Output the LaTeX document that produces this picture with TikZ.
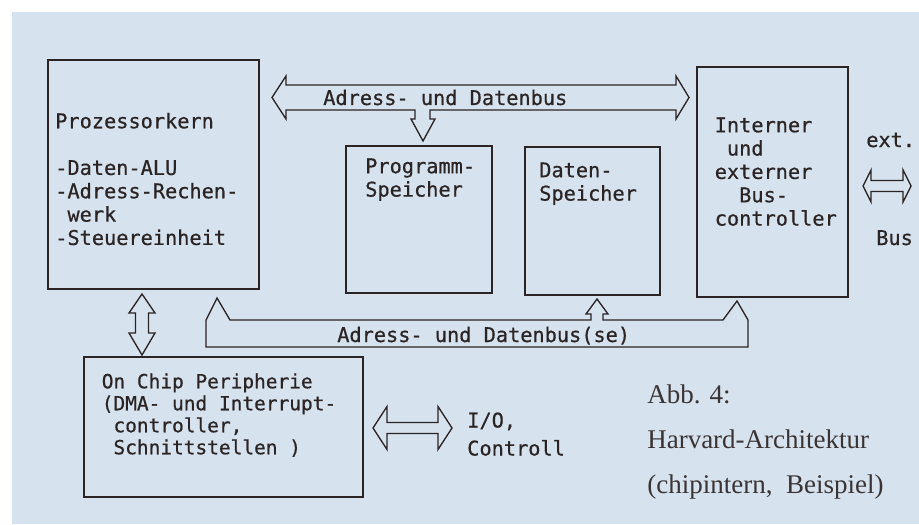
\documentclass[tikz,border=0pt]{standalone}
\usepackage{fontspec}
\setmonofont[FakeBold=0.6]{DejaVu Sans Mono}
\newfontfamily\capfont{Liberation Serif}
\usetikzlibrary{fit}
\definecolor{scanblue}{HTML}{D6E2EE}
\definecolor{ink}{HTML}{2A2424}
\definecolor{capink}{HTML}{3A3434}
\newcommand{\monosp}{\hphantom{x}}
\begin{document}
\begin{tikzpicture}[x=0.75pt,y=-0.75pt,
  box/.style={draw=ink,line width=1.5pt,inner sep=0pt},
  blockarrow/.style={draw=ink,line width=1pt,line join=miter},
  monotext/.style={inner sep=0pt,text=ink,align=left,
    font=\ttfamily\fontsize{15.2pt}{17.5pt}\selectfont},
  captext/.style={inner sep=0pt,text=capink,align=left,
    font=\capfont\fontsize{20.25pt}{33.75pt}\selectfont}]
% background
\fill[white] (0,0) rectangle (919,524);
\fill[scanblue] (12,12) rectangle (919,524);
\useasboundingbox (0,0) rectangle (919,524);

% boxes
\node[box,fit={(48,60) (259,289)}] (pk) {};
\node[box,fit={(346,146) (492,293)}] (prog) {};
\node[box,fit={(525,147) (660,295)}] (daten) {};
\node[box,fit={(697,67) (848,297)}] (bc) {};
\node[box,fit={(84,357) (363,497)}] (onchip) {};

% box texts
\node[monotext,anchor=north west] (pktext) at (55,112.6)
  {Prozessorkern\\[17.5pt]-Daten-ALU\\-Adress-Rechen-\\\monosp werk\\-Steuereinheit};
\node[monotext,anchor=north west] (progtext) at (365,158.2)
  {Programm-\\Speicher};
\node[monotext,anchor=north west] (datentext) at (539,162.2)
  {Daten-\\Speicher};
\node[monotext,anchor=north west] (bctext) at (714.5,117.2)
  {Interner\\\monosp und\\externer\\\monosp\monosp Bus-\\controller};
\node[monotext,anchor=north west,font=\ttfamily\fontsize{14.6pt}{16.5pt}\selectfont]
  (onchiptext) at (101.5,373.2)
  {On Chip Peripherie\\(DMA- und Interrupt-\\\monosp controller,\\\monosp Schnittstellen )};

% top bus: Adress- und Datenbus, with branch into Programm-Speicher
\draw[blockarrow] (272,97.5) -- (286,76) -- (286,85) -- (676,85) -- (676,76)
  -- (689,97.5) -- (676,119) -- (676,110) -- (430,110) -- (430,119) -- (435,119)
  -- (423,141) -- (411,119) -- (415,119) -- (415,110) -- (286,110) -- (286,119) -- cycle;
\node[monotext,anchor=base west] (topbus) at (323,105) {Adress- und Datenbus};

% bottom bus: Adress- und Datenbus(se)
\draw[blockarrow] (206,347) -- (206,320) -- (217,298) -- (230,320) -- (591,320)
  -- (591,314) -- (586,314) -- (597,299) -- (608,314) -- (603,314) -- (603,320)
  -- (723,320) -- (737,301) -- (748,320) -- (748,347) -- cycle;
\node[monotext,anchor=base west] (botbus) at (337,342) {Adress- und Datenbus(se)};

% vertical double arrow Prozessorkern <-> On Chip Peripherie
\draw[blockarrow] (142,294) -- (155,313) -- (148.5,313) -- (148.5,333) -- (155,333)
  -- (142,355) -- (129,333) -- (135.5,333) -- (135.5,313) -- (129,313) -- cycle;

% I/O double arrow
\draw[blockarrow] (373,428) -- (387,406.5) -- (387,422.5) -- (438,422.5) -- (438,406.5)
  -- (452,428) -- (438,449.5) -- (438,433.5) -- (387,433.5) -- (387,449.5) -- cycle;
\node[monotext,anchor=north west,font=\ttfamily\fontsize{15.2pt}{21pt}\selectfont]
  (iotext) at (467,412.2) {I/O,\\Controll};

% external bus double arrow
\draw[blockarrow] (863,186) -- (871,170) -- (871,180.5) -- (903,180.5) -- (903,170)
  -- (911,186) -- (903,202) -- (903,191.5) -- (871,191.5) -- (871,202) -- cycle;
\node[monotext,anchor=base west] (exttext) at (866,147) {ext.};
\node[monotext,anchor=base west] (bustext) at (876,245) {Bus};

% caption
\node[captext,anchor=north west] (caption) at (647,384.6)
  {Abb. 4:\\Harvard-Architektur\\(chipintern,\ \ Beispiel)};
\end{tikzpicture}
\end{document}
